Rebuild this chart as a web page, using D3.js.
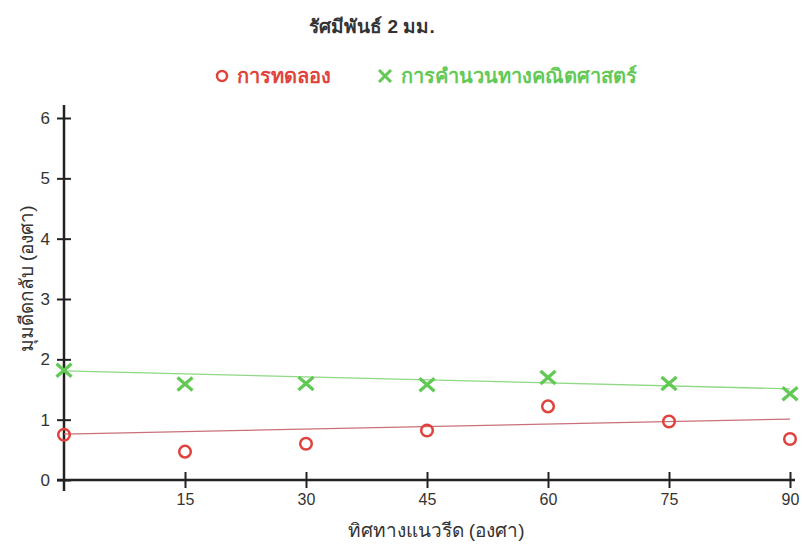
<!DOCTYPE html>
<html>
<head>
<meta charset="utf-8">
<script src="https://cdn.jsdelivr.net/npm/d3@7"></script>
<style>
  html, body { margin: 0; padding: 0; background: #fff; }
  svg { display: block; }
  text { font-family: "Liberation Sans", Arial, sans-serif; }
</style>
</head>
<body>
<svg id="chart" width="802" height="544"></svg>
<script>
// Angle of incidence (degrees) along the x axis
const angles = [0, 15, 30, 45, 60, 75, 90];
// Measured rebound angle (degrees)
const experiment = [0.75, 0.47, 0.60, 0.82, 1.22, 0.97, 0.68];
// Calculated rebound angle (degrees)
const calculated = [1.82, 1.59, 1.60, 1.58, 1.70, 1.60, 1.43];
// Trend line end points [x, y] for each series
const experimentTrend = [[0, 0.76], [90, 1.01]];
const calculatedTrend = [[0, 1.81], [90, 1.51]];

const xTicks = [15, 30, 45, 60, 75, 90];
const yTicks = [0, 1, 2, 3, 4, 5, 6];

const title = "รัศมีพันธ์ 2 มม.";
const seriesNames = ["การทดลอง", "การคำนวนทางคณิตศาสตร์"];
const xTitle = "ทิศทางแนวรีด (องศา)";
const yTitle = "มุมดีดกลับ (องศา)";

const red = "#e0433d";
const green = "#62c955";

const svg = d3.select("#chart");
const x = d3.scaleLinear().domain([0, 90]).range([64, 790]);
const y = d3.scaleLinear().domain([0, 6]).range([480, 118]);

// Title
svg.append("text")
  .attr("x", 372).attr("y", 33)
  .attr("text-anchor", "middle")
  .attr("font-size", 19).attr("font-weight", "bold")
  .attr("fill", "#333")
  .text(title);

// Legend
const legend = svg.append("g");
legend.append("circle")
  .attr("cx", 222).attr("cy", 76).attr("r", 5)
  .attr("fill", "none").attr("stroke", red).attr("stroke-width", 2.5);
legend.append("text")
  .attr("x", 237).attr("y", 83)
  .attr("font-size", 20).attr("font-weight", "bold")
  .attr("fill", red).text(seriesNames[0]);
legend.append("path")
  .attr("d", "M379,70L391,82M391,70L379,82")
  .attr("stroke", green).attr("stroke-width", 3).attr("fill", "none");
legend.append("text")
  .attr("x", 401).attr("y", 83)
  .attr("font-size", 20).attr("font-weight", "bold")
  .attr("fill", green).text(seriesNames[1]);

// Axes
const axisColor = "#222";
const gx = svg.append("g").attr("transform", `translate(0,${y(0)})`)
  .call(d3.axisBottom(x).tickValues(xTicks).tickFormat(d3.format("d")).tickSize(0).tickPadding(14));
gx.select(".domain").remove();
gx.append("line").attr("x1", 57).attr("x2", 795)
  .attr("stroke", axisColor).attr("stroke-width", 2.5);
gx.selectAll(".tick").append("line")
  .attr("y1", -8).attr("y2", 8)
  .attr("stroke", axisColor).attr("stroke-width", 2);
gx.selectAll(".tick text").attr("font-size", 16).attr("fill", "#333")
  .attr("font-family", "Liberation Sans, Arial, sans-serif");

const gy = svg.append("g").attr("transform", `translate(${x(0)},0)`)
  .call(d3.axisLeft(y).tickValues(yTicks).tickFormat(d3.format("d")).tickSize(0).tickPadding(14));
gy.select(".domain").remove();
gy.append("line").attr("y1", 105).attr("y2", 491)
  .attr("stroke", axisColor).attr("stroke-width", 2.5);
gy.selectAll(".tick").append("line")
  .attr("x1", -7).attr("x2", 7)
  .attr("stroke", axisColor).attr("stroke-width", 2);
gy.selectAll(".tick text").attr("font-size", 17).attr("fill", "#333")
  .attr("font-family", "Liberation Sans, Arial, sans-serif");

// Axis titles
svg.append("text")
  .attr("x", 436).attr("y", 537)
  .attr("text-anchor", "middle")
  .attr("font-size", 19).attr("fill", "#333")
  .text(xTitle);
svg.append("text")
  .attr("transform", `translate(33,279) rotate(-90)`)
  .attr("text-anchor", "middle")
  .attr("font-size", 19).attr("fill", "#333")
  .text(yTitle);

// Trend lines
const line = d3.line().x(d => x(d[0])).y(d => y(d[1]));
svg.append("path").datum(calculatedTrend)
  .attr("d", line).attr("fill", "none")
  .attr("stroke", "#8fd884").attr("stroke-width", 1.3);
svg.append("path").datum(experimentTrend)
  .attr("d", line).attr("fill", "none")
  .attr("stroke", "#c9707a").attr("stroke-width", 1.2);

// Calculated points (crosses)
svg.append("g").selectAll("path")
  .data(angles.map((a, i) => [a, calculated[i]]))
  .join("path")
  .attr("transform", d => `translate(${x(d[0])},${y(d[1])})`)
  .attr("d", "M-7.5,-6.5L7.5,6.5M7.5,-6.5L-7.5,6.5")
  .attr("fill", "none").attr("stroke", green).attr("stroke-width", 3.3);

// Experiment points (circles)
svg.append("g").selectAll("circle")
  .data(angles.map((a, i) => [a, experiment[i]]))
  .join("circle")
  .attr("cx", d => x(d[0])).attr("cy", d => y(d[1])).attr("r", 5.8)
  .attr("fill", "none").attr("stroke", red).attr("stroke-width", 2.5);
</script>
</body>
</html>
